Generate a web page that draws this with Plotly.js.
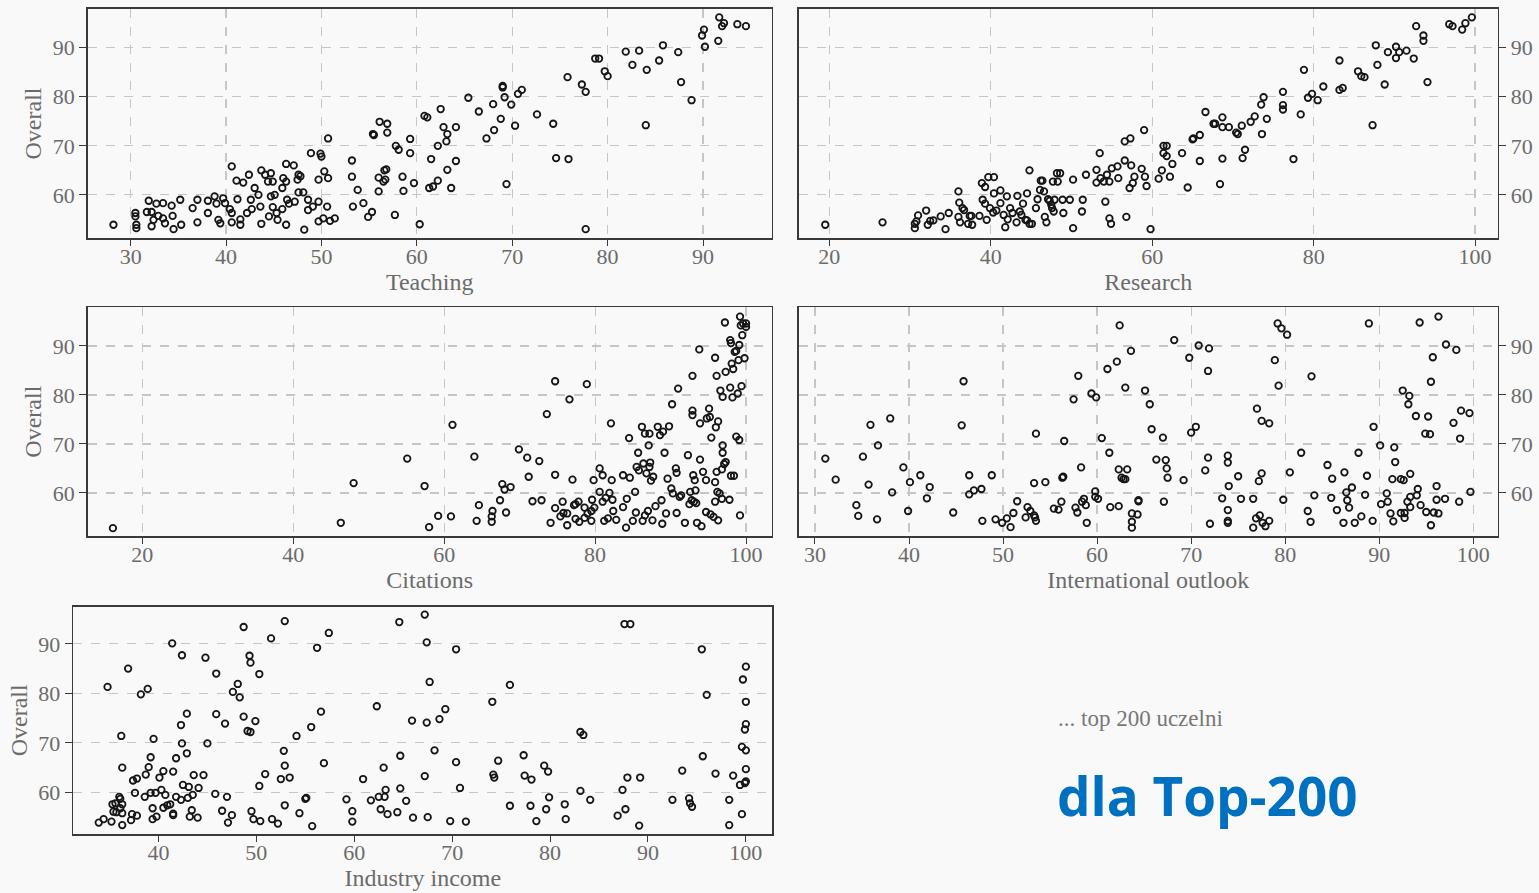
<!DOCTYPE html>
<html>
<head>
<meta charset="utf-8">
<script src="https://cdn.plot.ly/plotly-3.0.1.min.js"></script>
<style>html,body{margin:0;padding:0;background:#f9f9f9;}#chart{width:1539px;height:893px;}</style>
</head>
<body>
<div id="chart"></div>
<script>
// ---- Teaching vs Overall ----
const teachX = [28.2,30.5,30.5,30.6,30.6,31.9,31.7,32.2,32.7,33.4,
32.4,32.2,32.9,33.4,33.6,34.3,34.4,34.5,35.2,35.3,
36.5,37.0,37.0,38.1,38.1,38.8,39.0,39.2,39.4,39.7,
39.9,40.4,40.6,40.6,40.6,41.1,41.2,41.5,41.5,41.8,
42.2,42.4,42.6,42.7,43.0,43.4,43.6,43.7,43.7,44.1,
44.4,44.5,44.7,44.7,44.9,44.9,45.1,45.3,45.4,45.9,
45.9,46.0,46.3,46.3,46.3,46.4,46.6,47.1,47.2,47.5,
47.6,47.8,47.6,48.1,48.2,48.6,48.6,48.9,49.1,49.7,
49.7,49.7,49.9,50.0,50.2,50.3,50.6,50.7,50.7,50.9,
51.4,53.2,53.2,53.3,53.8,54.4,54.9,55.3,55.4,55.5,
56.0,56.1,56.0,56.5,56.6,56.7,56.8,56.9,56.9,57.7,
57.8,58.1,58.5,58.6,59.3,59.3,59.7,60.3,60.8,61.1,
61.3,61.5,61.7,62.2,62.2,62.5,62.8,63.1,63.2,63.2,
63.6,64.1,64.1,65.4,66.5,67.3,68.0,68.1,68.8,69.0,
69.0,69.2,69.4,69.9,70.3,70.6,71.0,72.6,74.3,74.6,
75.8,75.9,77.3,77.7,77.7,78.7,79.1,79.7,80.0,81.9,
82.6,83.3,84.0,84.1,85.4,85.8,87.4,87.7,88.8,89.9,
90.1,90.2,91.6,91.7,92.0,92.2,93.6,94.5];
const teachY = [53.9,56.3,55.6,53.9,53.2,58.8,56.5,56.5,58.2,58.3,
54.9,53.6,55.7,55.2,54.2,57.8,55.7,53.0,59.0,53.9,
57.3,59.0,54.4,58.8,56.3,59.7,58.2,54.9,54.2,59.3,
58.3,57.1,65.8,56.3,54.4,62.9,59.1,55.0,53.9,62.5,
56.3,64.1,59.0,57.1,61.4,60.0,57.6,65.0,54.1,64.1,
62.7,55.6,64.4,59.7,62.7,57.5,60.0,56.3,54.9,57.1,
61.4,63.4,53.9,66.3,62.7,59.0,58.2,66.0,58.6,63.1,
64.1,63.8,60.5,60.5,52.9,59.0,56.9,68.5,57.6,58.6,
63.1,54.6,68.4,67.8,55.2,64.8,57.6,71.5,63.4,54.7,
55.2,67.0,63.7,57.6,61.0,58.3,55.5,56.5,72.4,72.2,
60.7,74.9,63.5,62.7,65.0,63.1,65.2,74.5,72.7,55.9,
70.0,69.2,63.7,60.8,71.4,68.5,62.4,54.0,76.1,75.8,
61.4,67.3,61.7,62.9,70.0,77.5,73.8,70.9,72.4,65.1,
61.4,73.8,66.9,79.8,77.0,71.5,78.5,73.2,75.5,81.9,
82.2,79.9,62.2,78.4,74.1,80.6,81.4,76.4,74.5,67.5,
84.0,67.3,82.5,81.0,53.0,87.8,87.8,85.2,84.2,89.2,
86.5,89.4,74.2,85.5,87.4,90.5,89.1,83.0,79.3,92.5,
93.7,90.2,91.4,96.2,94.4,95.0,94.8,94.4];

// ---- Research vs Overall ----
const researchX = [19.5,26.6,30.6,30.6,31.0,30.8,32.0,32.2,32.5,32.9,
33.8,34.4,34.8,36.0,36.1,36.0,36.2,36.5,36.7,37.2,
37.4,37.7,37.6,38.6,38.9,39.0,39.3,39.3,39.5,39.7,
39.9,40.4,40.4,40.3,40.7,41.2,41.2,41.6,41.8,42.0,
42.1,42.4,42.7,43.2,43.3,43.6,43.8,44.0,44.3,44.5,
44.5,44.8,44.8,45.1,45.6,45.8,46.1,46.2,46.4,46.6,
46.7,46.9,47.1,47.3,47.5,47.6,47.7,47.8,47.9,48.2,
48.3,48.6,48.9,49.0,49.8,50.2,50.2,51.3,51.4,51.8,
53.1,53.1,53.5,53.6,54.0,54.2,54.4,54.7,54.7,54.9,
55.0,55.7,55.8,56.6,56.6,56.8,57.2,57.3,57.4,57.6,
57.8,58.7,59.0,59.1,59.3,59.8,60.8,61.2,61.4,61.4,
61.8,61.8,62.2,62.5,63.7,64.4,65.0,65.1,65.9,65.9,
66.6,67.6,67.8,68.4,68.7,68.7,68.7,69.5,70.4,70.6,
71.1,71.2,71.5,72.2,72.7,73.5,73.6,73.8,74.2,76.2,
76.2,76.2,77.5,78.4,78.8,79.3,79.8,80.5,81.2,83.2,
83.2,83.6,85.5,85.9,86.3,87.3,87.7,87.9,88.8,89.2,
90.2,90.2,90.6,91.5,92.4,92.7,93.6,93.6,94.1,96.8,
97.2,98.4,98.8,99.6];
const researchY = [53.9,54.4,53.2,54.1,55.8,54.6,56.8,53.9,54.7,54.8,
55.6,53.0,56.3,60.7,58.4,55.5,54.4,57.3,56.9,54.1,
55.7,53.9,55.7,55.7,62.4,59.0,61.6,58.2,54.9,63.6,
57.3,63.6,60.3,56.4,56.8,60.9,58.3,55.9,53.4,59.7,
55.0,57.3,56.3,54.4,59.8,56.6,55.9,58.2,54.9,60.3,
54.8,65.0,54.1,54.1,57.3,59.1,61.0,62.9,62.9,60.7,
55.5,54.4,59.1,58.8,58.0,57.3,62.7,56.6,59.0,64.4,
62.7,64.4,59.0,56.3,59.0,53.2,63.1,56.6,59.0,64.1,
65.1,62.5,68.5,63.4,62.7,58.6,64.1,62.7,55.2,54.1,
65.4,65.8,63.4,67.0,70.9,55.5,61.4,71.5,66.0,62.4,
63.7,65.3,73.2,63.7,61.8,53.0,63.3,65.0,70.0,68.5,
70.0,67.9,63.7,66.3,68.5,61.5,71.3,71.5,72.2,66.9,
76.9,74.5,74.5,62.2,67.4,75.8,73.8,73.8,72.7,72.4,
74.1,67.5,69.2,74.9,76.0,78.4,72.4,79.9,75.5,81.0,
78.3,77.4,67.3,76.4,85.5,79.8,80.6,79.3,82.1,87.4,
81.4,81.8,85.2,84.2,84.0,74.2,90.5,86.5,82.5,89.1,
90.2,87.9,89.1,89.4,87.8,94.4,92.5,91.4,83.0,94.8,
94.4,93.7,95.0,96.2];

// ---- Citations vs Overall ----
const citX = [16.1,46.3,48.0,55.1,57.4,58.0,59.2,60.9,61.1,64.0,
64.3,64.6,66.3,66.3,66.4,67.4,67.7,68.0,68.2,68.8,
69.9,71.0,71.2,71.7,72.6,72.9,73.6,74.1,74.7,74.7,
74.7,75.4,75.7,75.8,76.3,76.3,76.6,77.0,77.2,77.4,
77.4,77.9,77.8,78.6,78.6,78.9,79.0,79.5,79.6,79.5,
79.8,79.9,80.6,80.6,81.0,81.0,81.2,81.4,81.7,81.9,
82.1,82.2,82.3,82.4,82.8,83.7,83.7,84.1,84.2,84.5,
84.6,85.0,85.3,85.4,85.5,85.7,85.8,86.2,86.3,86.4,
86.6,86.6,86.8,87.0,87.1,87.2,87.2,87.3,87.4,87.6,
87.7,88.0,88.3,88.6,88.8,88.9,89.0,89.2,89.4,89.6,
89.8,90.1,90.2,90.3,90.7,90.8,90.8,91.0,91.2,91.4,
91.9,92.3,92.5,92.6,92.8,92.9,92.9,92.9,93.0,93.1,
93.2,93.3,93.4,93.5,93.8,93.9,93.9,94.1,94.3,94.7,
94.7,94.8,95.1,95.2,95.3,95.4,95.7,95.9,95.9,95.9,
96.0,96.1,96.1,96.2,96.3,96.3,96.5,96.6,96.8,96.8,
96.9,96.9,96.9,97.1,97.2,97.3,97.3,97.8,97.9,97.9,
98.0,98.0,98.1,98.2,98.3,98.4,98.5,98.7,98.7,98.9,
99.0,99.1,99.1,99.2,99.2,99.3,99.4,99.5,99.6,99.8,
100.0,100.0];
const citY = [52.8,53.9,62.0,67.0,61.4,53.0,55.3,55.2,73.9,67.4,
54.3,57.5,55.2,54.1,56.3,58.5,61.8,60.7,56.0,61.2,
68.9,67.2,63.3,58.3,66.5,58.5,76.1,53.9,82.8,63.7,
56.9,55.2,58.2,55.9,53.4,55.8,79.1,62.7,57.5,57.7,
54.7,54.1,58.2,54.9,57.0,82.2,55.8,56.3,58.6,54.3,
62.6,57.0,65.0,60.2,63.6,58.2,54.3,59.0,54.8,60.0,
74.2,62.6,58.6,56.3,54.5,57.1,63.6,52.9,58.8,71.2,
63.1,54.3,60.2,56.0,65.3,68.2,64.6,73.5,54.3,66.0,
72.1,55.4,64.0,56.3,69.7,72.1,65.3,66.2,62.5,54.4,
63.3,57.3,73.5,71.8,58.5,53.7,72.5,68.2,55.8,62.9,
73.6,60.9,78.1,59.9,65.0,64.1,55.9,81.3,59.2,59.5,
53.9,67.7,57.7,60.2,58.5,76.8,75.9,83.9,63.6,58.2,
62.6,60.5,57.9,53.9,89.3,66.8,74.2,53.2,64.3,62.6,
56.1,75.2,77.2,75.5,55.6,71.3,55.1,62.2,58.2,87.6,
73.4,83.9,64.3,60.2,74.6,54.4,59.9,80.9,64.8,58.8,
79.6,69.7,68.2,65.9,94.8,84.7,66.3,58.6,91.2,81.5,
90.6,63.5,86.4,79.5,85.3,63.5,88.8,89.0,71.5,80.3,
87.1,90.2,70.8,96.0,55.4,94.2,81.8,92.2,94.6,87.5,
94.6,93.9];

// ---- International outlook vs Overall ----
const intlX = [31.1,32.2,34.4,34.6,35.1,35.7,35.9,36.6,36.7,38.0,
38.2,39.4,39.9,40.1,41.2,41.9,42.2,44.7,45.8,45.6,
46.4,46.4,46.9,47.7,47.8,48.8,49.2,49.9,50.4,50.8,
51.1,51.5,52.4,52.6,52.9,53.3,53.4,53.5,53.3,53.5,
54.5,55.4,55.9,56.2,56.3,56.4,56.5,57.5,57.7,57.9,
58.0,58.3,58.4,58.6,58.8,58.9,59.4,59.8,59.8,59.9,
60.1,60.5,61.1,61.3,61.4,62.1,62.3,62.3,62.4,62.6,
62.8,63.0,63.0,63.2,63.6,63.7,63.7,63.7,64.3,64.4,
64.4,65.1,65.6,65.8,66.3,67.0,67.1,67.3,67.4,67.5,
68.2,69.2,69.8,70.0,70.5,70.8,71.5,71.8,71.8,71.9,
72.0,73.3,73.9,73.9,73.9,73.9,73.9,74.0,75.0,75.3,
76.6,76.6,76.9,77.0,77.2,77.3,77.5,77.5,77.6,77.9,
78.3,78.3,78.9,79.2,79.6,79.3,79.8,80.2,80.5,81.7,
82.4,82.7,82.8,83.1,84.5,84.9,85.0,85.5,86.2,86.3,
86.5,86.6,86.8,87.1,87.4,87.8,88.1,88.5,88.7,88.9,
89.3,89.4,90.1,90.2,90.8,90.9,91.2,91.4,91.5,91.6,
91.7,92.3,92.3,92.5,92.6,92.7,92.7,93.0,93.1,93.2,
93.3,93.3,93.3,93.9,94.0,94.1,94.3,94.4,94.9,95.0,
95.2,95.4,95.5,95.5,95.7,95.8,96.1,96.1,96.3,96.3,
97.0,97.1,97.9,98.2,98.5,98.6,98.7,99.6,99.7];
const intlY = [67.0,62.7,57.5,55.3,67.4,61.7,73.9,54.6,69.7,75.2,
60.1,65.2,56.3,62.2,63.6,58.9,61.2,56.0,82.8,73.8,
63.6,59.7,60.5,60.8,54.3,63.6,54.6,53.9,54.8,53.0,
55.9,58.3,55.0,57.1,56.3,55.4,55.0,54.3,62.0,72.1,
62.2,56.8,56.6,58.2,63.1,63.3,70.6,79.1,57.0,56.0,
83.9,65.2,58.2,58.8,57.5,53.9,80.3,60.3,59.2,79.5,
58.8,71.2,85.3,68.2,57.1,86.8,64.8,57.3,94.2,63.1,
62.8,62.8,81.5,64.8,89.0,55.8,54.1,52.9,55.6,58.5,
58.3,80.9,78.1,73.0,66.8,71.3,58.2,66.7,65.0,63.1,
91.2,62.6,87.6,72.3,73.5,90.1,64.6,67.2,84.9,89.5,
53.7,58.9,67.6,66.2,56.5,54.3,53.9,61.4,63.4,58.8,
58.8,52.9,54.8,77.2,62.4,55.4,64.0,74.7,53.9,53.2,
74.2,54.3,87.1,94.6,93.6,81.9,58.6,92.3,64.2,68.2,
56.3,54.1,83.8,59.5,65.7,59.0,62.9,56.5,53.9,64.2,
60.1,58.5,57.0,61.1,53.9,68.2,55.2,59.6,63.5,94.6,
54.3,73.5,69.7,57.7,59.9,58.2,55.8,62.8,54.2,69.3,
66.3,62.8,55.9,80.9,62.6,55.9,54.9,58.2,78.1,79.8,
59.2,57.1,63.9,75.7,59.5,60.8,94.8,57.5,72.1,56.1,
75.6,72.0,82.7,53.4,87.7,56.0,61.4,58.6,96.0,55.8,
58.8,90.3,74.3,89.2,58.2,71.1,76.8,76.3,60.2];

// ---- Industry income vs Overall ----
const indX = [33.9,34.4,34.8,35.2,35.3,35.4,35.6,35.7,36.0,36.1,
36.1,36.2,36.3,36.3,36.3,36.3,36.9,37.2,37.3,37.4,
37.6,37.8,37.8,38.2,38.6,38.7,38.9,39.0,39.2,39.2,
39.4,39.4,39.5,39.7,39.8,40.1,40.3,40.5,40.5,40.7,
40.9,41.2,41.4,41.5,41.5,41.5,41.8,41.8,42.3,42.3,
42.4,42.4,42.5,42.9,42.9,43.0,43.1,43.2,43.4,43.5,
43.6,44.0,44.1,44.6,44.8,45.0,45.8,45.9,45.9,46.5,
46.8,47.0,47.1,47.5,47.6,48.1,48.3,48.7,48.7,49.1,
49.3,49.4,49.4,49.5,49.7,49.9,50.3,50.3,50.4,50.9,
51.5,51.6,52.2,52.5,52.8,52.9,52.9,52.9,53.4,54.1,
54.4,55.0,55.1,55.6,55.7,56.2,56.6,56.9,57.4,59.2,
59.8,59.8,60.9,61.7,62.3,62.5,62.7,63.0,63.1,63.2,
63.4,64.4,64.6,64.7,64.7,65.3,65.9,66.0,67.2,67.4,
67.2,67.4,67.5,67.7,68.2,68.7,69.3,69.8,70.4,70.4,
70.8,71.4,74.1,74.2,74.3,74.7,75.9,75.9,77.3,77.4,
78.0,78.1,78.6,79.4,79.6,79.8,79.9,81.5,81.6,83.1,
83.4,83.1,84.1,86.9,87.4,87.6,87.7,87.9,88.2,89.1,
89.2,92.5,93.5,94.2,94.3,94.5,95.5,95.6,96.0,96.9,
98.3,98.3,98.7,99.4,99.6,99.6,99.7,99.9,100.0,100.0,
100.0,99.9,100.0,100.0,100.0];
const indY = [53.9,54.6,81.3,54.1,57.6,56.1,57.8,56.0,59.1,56.8,
58.7,71.4,57.6,53.4,65.0,55.8,85.0,54.4,55.6,62.4,
59.9,62.8,55.3,79.8,59.1,63.6,80.9,65.1,59.9,67.1,
56.8,54.6,70.8,59.9,55.1,63.0,60.5,64.3,56.9,59.5,
57.4,57.6,90.1,55.7,55.4,64.2,66.9,59.1,58.5,73.6,
87.7,69.9,61.5,75.9,67.9,58.9,61.1,55.1,56.4,59.5,
63.5,54.9,60.9,63.5,87.2,69.9,59.7,84.0,75.8,56.3,
73.9,59.1,53.9,55.4,80.3,81.9,79.2,93.4,75.3,72.4,
87.6,86.2,72.2,56.2,54.6,74.4,83.9,61.3,54.2,63.7,
91.1,54.6,53.7,62.7,68.4,65.4,57.4,94.6,63.0,71.4,
55.8,58.7,58.9,73.2,53.2,89.2,76.3,65.9,92.2,58.6,
56.2,54.1,62.7,58.4,77.4,59.1,56.6,65.0,59.1,60.5,
55.6,56.0,94.4,60.8,67.4,58.3,74.5,54.9,95.9,90.3,
63.3,74.1,55.0,82.3,68.5,74.8,76.8,54.2,88.9,66.1,
60.9,54.1,78.3,63.6,63.0,66.4,57.3,81.7,67.5,63.4,
57.3,62.6,54.2,65.4,56.6,64.2,59.0,57.6,54.6,72.2,
71.6,60.3,58.5,55.3,60.5,94.0,56.6,63.0,94.0,53.3,
63.0,58.5,64.4,58.8,57.8,57.1,88.9,67.3,79.7,63.8,
58.5,53.4,63.4,61.5,55.6,69.2,82.8,61.9,85.4,78.3,
73.8,72.7,68.5,64.7,62.2];

const panelTitles = ["Teaching", "Research", "Citations", "International outlook", "Industry income"];
const yTitle = "Overall";
const yTicks = [60, 70, 80, 90];
const noteText = "... top 200 uczelni";
const headText = "dla Top-200";

const serif = "Liberation Serif, DejaVu Serif, serif";
const tickFont = {family: serif, size: 22, color: "#6b6b6b"};
const titleFont = {family: serif, size: 24, color: "#6b6b6b"};

const marker = {symbol: "circle-open", size: 6.5, color: "#151515", line: {width: 1.8, color: "#151515"}};

const series = [[teachX, teachY], [researchX, researchY], [citX, citY], [intlX, intlY], [indX, indY]];
const traces = series.map((s, i) => ({
  type: "scatter", mode: "markers", x: s[0], y: s[1],
  xaxis: i === 0 ? "x" : "x" + (i + 1), yaxis: i === 0 ? "y" : "y" + (i + 1),
  marker: marker, showlegend: false, hoverinfo: "x+y"
}));

function xax(domain, range, dtick, title, grid) {
  return {domain: domain, range: range, dtick: dtick, tick0: 0, showline: true, mirror: true,
    linecolor: "#3a3a3a", linewidth: 1.6, ticks: "outside", ticklen: 6, tickcolor: "#3a3a3a",
    ticklabelstandoff: -8,
    tickfont: tickFont, showgrid: grid, gridcolor: "#c6c6c6", griddash: "dash", gridwidth: 1.2,
    zeroline: false, title: {text: title, font: titleFont, standoff: 0}};
}
function yax(domain, range, side, anchor) {
  return {domain: domain, range: range, tickvals: yTicks, side: side, anchor: anchor, showline: true, mirror: true,
    linecolor: "#3a3a3a", linewidth: 1.6, ticks: "outside", ticklen: 7, tickcolor: "#3a3a3a",
    tickfont: tickFont, showgrid: true, gridcolor: "#c6c6c6", griddash: "dash", gridwidth: 1.2,
    zeroline: false, title: {text: side === "left" ? yTitle : "", font: titleFont, standoff: 4}};
}

const L = [87.7 / 1539, 771.7 / 1539], R = [799 / 1539, 1497.7 / 1539];
const row1 = [1 - 238 / 893, 1 - 9 / 893], row2 = [1 - 536 / 893, 1 - 307.3 / 893], row3 = [1 - 834 / 893, 1 - 606.7 / 893];
const yr = [51.2, 97.9];

const layout = {
  width: 1539, height: 893, margin: {l: 0, r: 0, t: 0, b: 0},
  paper_bgcolor: "#f9f9f9", plot_bgcolor: "#f9f9f9",
  xaxis: xax(L, [25.5, 97.2], 10, panelTitles[0], true), yaxis: yax(row1, yr, "left", "x"),
  xaxis2: Object.assign(xax(R, [16.25, 102.8], 20, panelTitles[1], true), {anchor: "y2"}), yaxis2: yax(row1, yr, "right", "x2"),
  xaxis3: Object.assign(xax(L, [12.76, 103.4], 20, panelTitles[2], true), {anchor: "y3"}), yaxis3: yax(row2, yr, "left", "x3"),
  xaxis4: Object.assign(xax(R, [28.3, 102.6], 10, panelTitles[3], true), {anchor: "y4"}), yaxis4: yax(row2, yr, "right", "x4"),
  xaxis5: Object.assign(xax([73.3 / 1539, 772.3 / 1539], [31.3, 102.7], 10, panelTitles[4], false), {anchor: "y5"}), yaxis5: yax(row3, [51.6, 97.5], "left", "x5"),
  annotations: [
    {text: noteText, xref: "paper", yref: "paper", x: 1056 / 1539, y: 1 - 718 / 893, xanchor: "left", yanchor: "middle",
     showarrow: false, font: {family: serif, size: 23, color: "#777"}},
    {text: "<b>" + headText + "</b>", xref: "paper", yref: "paper", x: 1055 / 1539, y: 1 - 795 / 893, xanchor: "left", yanchor: "middle",
     showarrow: false, font: {family: "Open Sans, Noto Sans, sans-serif", size: 53, color: "#0070c0"}}
  ]
};
layout.xaxis.anchor = "y";

Plotly.newPlot("chart", traces, layout, {displayModeBar: false, staticPlot: true});
</script>
</body>
</html>
